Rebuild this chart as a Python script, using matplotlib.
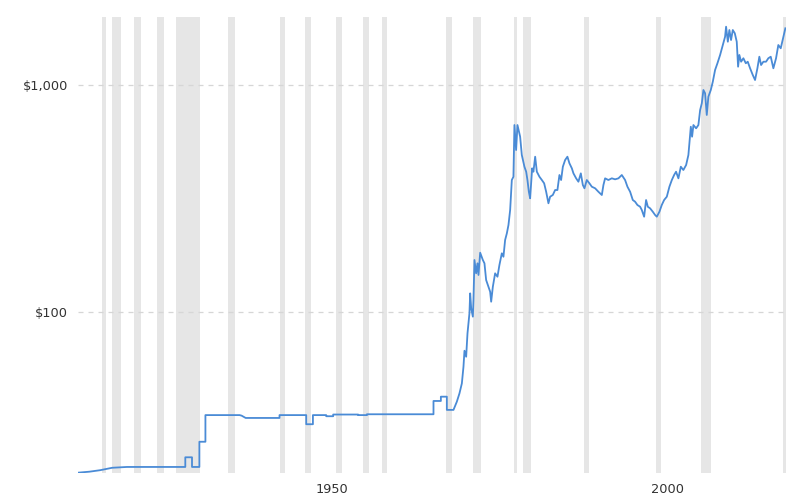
import matplotlib
matplotlib.use("Agg")
import matplotlib.pyplot as plt
import matplotlib.transforms as mtransforms
from matplotlib.ticker import FixedLocator, FixedFormatter, NullLocator

# ---- data ----
years = [
    1915.1, 1916.8, 1918.4, 1920.2, 1922.4, 1931.1, 1931.1, 1932.1, 1932.1, 1933.2,
    1933.2, 1934.1, 1934.1, 1939.2, 1939.5, 1940.1, 1945.15, 1945.15, 1949.13, 1949.13,
    1950.13, 1950.13, 1952.11, 1952.11, 1953.15, 1953.15, 1956.88, 1956.88, 1958.18, 1958.18,
    1968.11, 1968.11, 1969.21, 1969.21, 1970.10, 1970.10, 1971.09,
    1971.59, 1971.98, 1972.34, 1972.58, 1972.73, 1972.98, 1973.18, 1973.47, 1973.58, 1973.73,
    1973.98, 1974.07, 1974.22, 1974.47, 1974.67, 1974.82, 1975.07, 1975.47, 1975.71, 1975.96,
    1976.31, 1976.56, 1976.71, 1976.96, 1977.30, 1977.65, 1977.94, 1978.30, 1978.54, 1978.79,
    1979.05, 1979.29, 1979.54, 1979.79, 1980.03, 1980.18, 1980.43, 1980.63, 1981.03, 1981.28,
    1981.67, 1981.93, 1982.12, 1982.33, 1982.52, 1982.82, 1983.01, 1983.27, 1983.52, 1983.91,
    1984.27, 1984.61, 1984.91, 1985.25, 1985.50, 1985.90, 1986.25, 1986.59, 1986.89, 1987.14,
    1987.40, 1987.74, 1988.08, 1988.38, 1988.74, 1988.98, 1989.38, 1989.72, 1990.08, 1990.38,
    1990.62, 1990.97, 1991.36, 1991.72, 1992.21, 1992.70, 1993.21, 1993.45, 1993.70, 1994.19,
    1994.70, 1995.19, 1995.69, 1996.19, 1996.68, 1997.03, 1997.43, 1997.83, 1998.17, 1998.52,
    1998.92, 1999.17, 1999.52, 1999.81, 2000.07, 2000.41, 2000.81, 2001.16, 2001.41, 2001.80,
    2002.15, 2002.50, 2002.90, 2003.29, 2003.65, 2003.99, 2004.28, 2004.63, 2004.99, 2005.37,
    2005.78, 2006.12, 2006.48, 2006.67, 2006.87, 2007.27, 2007.61, 2007.87, 2008.12, 2008.36,
    2008.61, 2008.86, 2009.10, 2009.46, 2009.76, 2010.10, 2010.45, 2010.85, 2011.25, 2011.59,
    2011.74, 2012.00, 2012.23, 2012.48, 2012.74, 2013.04, 2013.33, 2013.53, 2013.72, 2013.98,
    2014.32, 2014.68, 2014.97, 2015.32, 2015.72, 2016.06, 2016.41, 2016.70, 2016.96, 2017.30,
    2017.70, 2018.04, 2018.40, 2018.79, 2019.19, 2019.53, 2019.89, 2020.28, 2020.58,
]
prices = [
    19.5, 19.7, 20.0, 20.5, 20.67, 20.67, 22.8, 22.8, 20.67, 20.67,
    26.7, 26.7, 35.0, 35.0, 34.8, 34.0, 34.0, 35.0, 35.0, 31.9,
    31.9, 35.0, 35.0, 34.6, 34.6, 35.2, 35.2, 35.0, 35.0, 35.3,
    35.3, 40.4, 40.4, 42.2, 42.2, 36.9, 36.9,
    40.1, 43.6, 48.3, 57.2, 67.3, 63.3, 80.3, 98.4, 120.5, 103.5,
    95.1, 112.6, 169.1, 147.7, 163.5, 145.2, 182.1, 169.1, 163.5, 138.0,
    128.9, 122.5, 110.7, 128.9, 147.7, 142.7, 160.7, 181.0, 174.8, 207.2,
    221.8, 241.3, 281.0, 381.0, 393.9, 666.0, 516.8, 666.0, 591.5, 491.2,
    436.1, 414.5, 381.0, 338.2, 316.4, 429.1, 414.5, 482.8, 414.5, 393.9,
    381.0, 368.5, 338.2, 300.8, 321.6, 327.2, 344.2, 344.2, 400.9, 381.0,
    436.1, 467.0, 482.8, 451.6, 429.1, 407.7, 387.6, 374.5, 407.7, 362.2,
    350.3, 381.0, 368.5, 356.0, 350.3, 338.2, 327.2, 362.2, 387.6, 381.0,
    387.6, 383.7, 387.6, 400.9, 381.0, 356.0, 338.2, 311.0, 305.7, 295.6,
    290.5, 281.0, 262.5, 311.0, 290.5, 285.8, 276.1, 267.0, 262.5, 276.1,
    295.6, 311.0, 321.6, 356.0, 381.0, 400.9, 414.5, 387.6, 436.1, 421.7,
    443.7, 491.2, 654.7, 591.5, 666.0, 644.2, 666.0, 775.8, 830.5, 950.6,
    919.2, 737.4, 888.0, 950.6, 1034, 1165, 1247, 1357, 1501, 1633,
    1808, 1552, 1748, 1579, 1748, 1691, 1552, 1204, 1357, 1267,
    1312, 1247, 1267, 1185, 1107, 1052, 1185, 1333, 1225, 1267,
    1267, 1312, 1333, 1185, 1312, 1501, 1452, 1633, 1779,
]

recession_start = [1918.67, 1920.16, 1923.44, 1926.87, 1929.75, 1937.46, 1945.25, 1948.98,
                   1953.60, 1957.67, 1960.41, 1969.95, 1973.98, 1980.14, 1981.52, 1990.57,
                   2001.31, 2008.02, 2020.28]
recession_end = [1919.31, 1921.50, 1924.53, 1927.96, 1933.22, 1938.54, 1945.99, 1949.83,
                 1954.45, 1958.42, 1961.25, 1970.85, 1975.22, 1980.54, 1982.72, 1991.27,
                 2002.01, 2009.50, 2020.68]

y_ticks = [100, 1000]
y_labels = ["$100", "$1,000"]
x_ticks = [1950, 2000]
x_labels = ["1950", "2000"]

# ---- figure ----
fig = plt.figure(figsize=(8.0, 4.97), dpi=100)
ax = fig.add_axes([78 / 800, 1 - 473.3 / 497, (785.5 - 78) / 800, (473.3 - 17.3) / 497])

for s, e in zip(recession_start, recession_end):
    ax.axvspan(s, e, color="#e6e6e6", lw=0, zorder=0)

ax.plot(years, prices, color="#4a8bd6", lw=1.3, zorder=3, solid_joinstyle="round")

ax.set_yscale("log")
ax.set_xlim(1915.1, 2020.6)
ax.set_ylim(19.38, 1989)

ax.yaxis.set_major_locator(FixedLocator(y_ticks))
ax.yaxis.set_major_formatter(FixedFormatter(y_labels))
ax.yaxis.set_minor_locator(NullLocator())
ax.xaxis.set_major_locator(FixedLocator(x_ticks))
ax.xaxis.set_major_formatter(FixedFormatter(x_labels))

for yv in y_ticks:
    ax.axhline(yv, color="#d6d6d6", lw=0.9, ls=(0, (4, 4)), zorder=1)

for sp in ax.spines.values():
    sp.set_visible(False)

ax.tick_params(axis="both", length=0, labelsize=9.3, colors="#333333")
ax.tick_params(axis="y", pad=7)
ax.tick_params(axis="x", pad=7)

offset = mtransforms.ScaledTranslation(20 / 100, 0, fig.dpi_scale_trans)
for lab in ax.get_xticklabels():
    lab.set_transform(lab.get_transform() + offset)

fig.savefig("out.png", dpi=100, facecolor="white")
